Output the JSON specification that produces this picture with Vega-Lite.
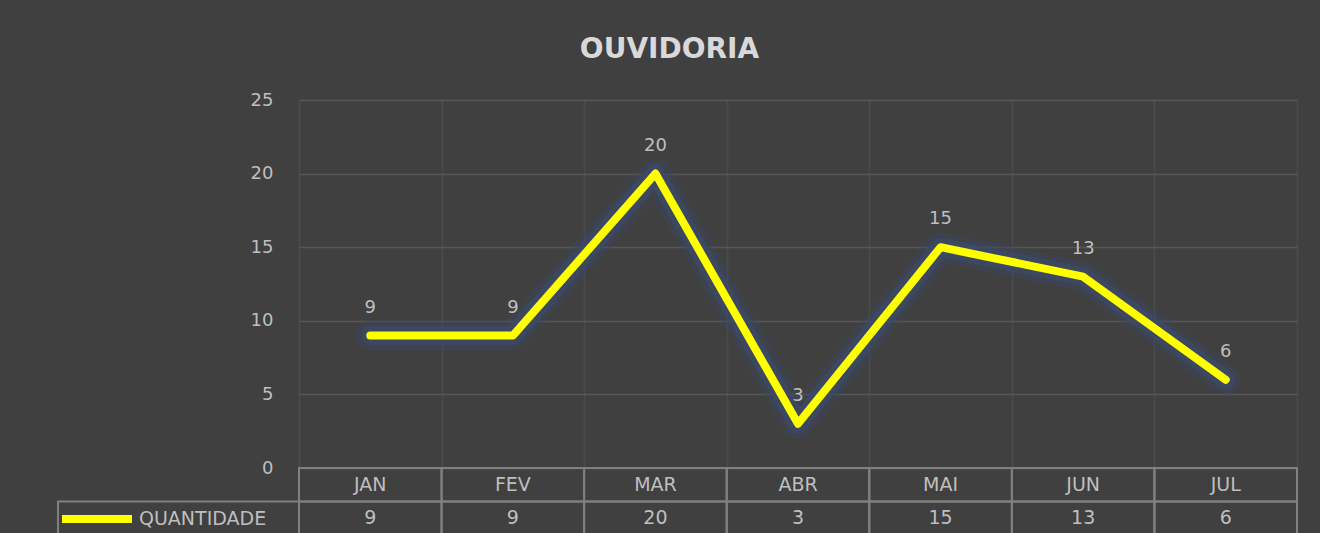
{
  "$schema": "https://vega.github.io/schema/vega-lite/v6.json",
  "background": "#404040",
  "padding": {"left": 57, "top": 36, "right": 22, "bottom": 0},
  "title": {"text": "OUVIDORIA", "fontSize": 28, "font": "DejaVu Sans", "fontWeight": "bold", "color": "#d9d9d9", "anchor": "middle", "frame": "bounds", "offset": 27, "dx": -8},
  "config": {"view": {"stroke": null}, "font": "DejaVu Sans", "axis": {"labelFont": "DejaVu Sans"}, "legend": {"labelFont": "DejaVu Sans"}},
  "datasets": {
    "meses": [
      {"mes": "JAN", "quantidade": 9, "serie": "QUANTIDADE"},
      {"mes": "FEV", "quantidade": 9, "serie": "QUANTIDADE"},
      {"mes": "MAR", "quantidade": 20, "serie": "QUANTIDADE"},
      {"mes": "ABR", "quantidade": 3, "serie": "QUANTIDADE"},
      {"mes": "MAI", "quantidade": 15, "serie": "QUANTIDADE"},
      {"mes": "JUN", "quantidade": 13, "serie": "QUANTIDADE"},
      {"mes": "JUL", "quantidade": 6, "serie": "QUANTIDADE"}
    ]
  },
  "bounds": "flush",
  "columns": 2,
  "spacing": 0,
  "concat": [
    {
      "width": 241, "height": 368,
      "data": {"values": []},
      "mark": {"type": "text", "text": ""},
      "encoding": {}
    },
    {
      "width": 998, "height": 368,
      "data": {"name": "meses"},
      "encoding": {
        "x": {"field": "mes", "type": "ordinal", "bandPosition": 0.5,
          "scale": {"type": "band", "domain": ["JAN", "FEV", "MAR", "ABR", "MAI", "JUN", "JUL"], "paddingInner": 0, "paddingOuter": 0},
          "axis": {"orient": "bottom", "labels": false, "ticks": false, "domain": false, "grid": true, "gridColor": "#4b4b4b", "gridWidth": 1.5, "tickBand": "extent", "title": null}},
        "y": {"field": "quantidade", "type": "quantitative",
          "scale": {"domain": [0, 25], "nice": false, "zero": true},
          "axis": {"values": [0, 5, 10, 15, 20, 25], "grid": true, "gridColor": "#575757", "gridWidth": 1.5, "domain": false, "ticks": false, "labelColor": "#bfbfbf", "labelFontSize": 18, "labelPadding": 26, "title": null}}
      },
      "layer": [
        {"mark": {"type": "line", "color": "#3a4660", "strokeWidth": 30, "opacity": 0.4, "strokeCap": "round", "strokeJoin": "round"}},
        {"mark": {"type": "line", "color": "#3c4a66", "strokeWidth": 19, "opacity": 0.8, "strokeCap": "round", "strokeJoin": "round"}},
        {"mark": {"type": "line", "strokeWidth": 8, "strokeCap": "round", "strokeJoin": "round"},
          "encoding": {"color": {"field": "serie", "type": "nominal",
            "scale": {"domain": ["QUANTIDADE"], "range": ["#ffff00"]},
            "legend": {"orient": "none", "legendX": 0, "legendY": 380, "title": null, "symbolType": "stroke", "symbolSize": 4900, "symbolStrokeWidth": 8, "labelFontSize": 19, "labelColor": "#bfbfbf", "labelOffset": 3, "padding": 0}}}},
        {"mark": {"type": "text", "dy": -28, "fontSize": 18, "color": "#bfbfbf"},
          "encoding": {"text": {"field": "quantidade", "type": "quantitative"}}}
      ]
    },
    {
      "width": 241, "height": 67,
      "data": {"values": [{"linha": "QUANTIDADE"}]},
      "mark": {"type": "rect", "fill": "transparent", "stroke": "#808080", "strokeWidth": 2},
      "encoding": {
        "y": {"field": "linha", "type": "nominal", "scale": {"domain": ["MÊS", "QUANTIDADE"], "paddingInner": 0, "paddingOuter": 0}, "axis": null}
      }
    },
    {
      "width": 998, "height": 67,
      "data": {"name": "meses"},
      "encoding": {
        "x": {"field": "mes", "type": "ordinal",
          "scale": {"type": "band", "domain": ["JAN", "FEV", "MAR", "ABR", "MAI", "JUN", "JUL"], "paddingInner": 0, "paddingOuter": 0},
          "axis": null}
      },
      "layer": [
        {"mark": {"type": "rect", "fill": "transparent", "stroke": "#808080", "strokeWidth": 2},
          "encoding": {"y": {"datum": "MÊS", "type": "nominal", "scale": {"domain": ["MÊS", "QUANTIDADE"], "paddingInner": 0, "paddingOuter": 0}, "axis": null}}},
        {"mark": {"type": "rect", "fill": "transparent", "stroke": "#808080", "strokeWidth": 2},
          "encoding": {"y": {"datum": "QUANTIDADE", "type": "nominal"}}},
        {"mark": {"type": "text", "fontSize": 19, "color": "#bfbfbf"},
          "encoding": {"y": {"datum": "MÊS", "type": "nominal"}, "text": {"field": "mes", "type": "nominal"}}},
        {"mark": {"type": "text", "fontSize": 19, "color": "#bfbfbf"},
          "encoding": {"y": {"datum": "QUANTIDADE", "type": "nominal"}, "text": {"field": "quantidade", "type": "quantitative"}}}
      ]
    }
  ]
}
